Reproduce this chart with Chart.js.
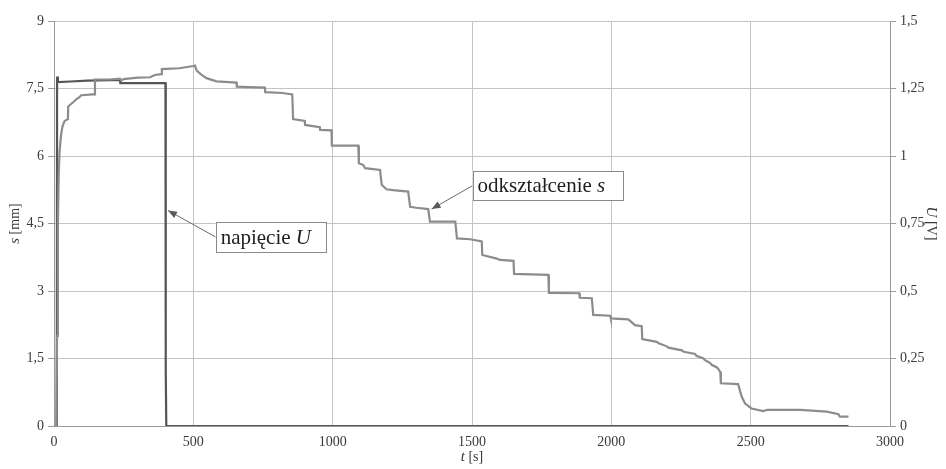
<!DOCTYPE html>
<html><head><meta charset="utf-8">
<script src="https://cdn.jsdelivr.net/npm/chart.js@4"></script>
<style>html,body{margin:0;padding:0;background:#fff}#wrap{width:946px;height:469px;position:relative}</style>
</head><body><div id="wrap"><canvas id="c"></canvas></div>
<script>
// ---- data ----
const timeS = [0,8,11,14,17,20,25,30,38,50,51,60,70,80,90,98,140,146,147,200,237,242,250,300,345,362,385,387,450,500,506,512,530,547,583,655,656,700,757,758,820,855,858,900,901,954,955,996,997,1092,1094,1110,1116,1170,1176,1193,1217,1271,1278,1300,1343,1349,1440,1446,1493,1535,1537,1589,1600,1649,1651,1774,1776,1885,1887,1930,1935,1996,1998,2061,2085,2109,2111,2163,2170,2199,2205,2253,2260,2301,2305,2331,2335,2355,2360,2379,2385,2391,2393,2455,2468,2480,2503,2545,2560,2678,2720,2773,2815,2820,2851];
const sValues = [0,0,2.0,4.5,5.6,6.1,6.45,6.65,6.78,6.82,7.1,7.15,7.2,7.26,7.3,7.35,7.37,7.37,7.7,7.7,7.72,7.68,7.71,7.74,7.75,7.8,7.82,7.93,7.95,8.0,8.01,7.9,7.8,7.73,7.66,7.63,7.54,7.53,7.52,7.42,7.4,7.37,6.82,6.78,6.69,6.64,6.58,6.57,6.23,6.23,5.84,5.8,5.73,5.69,5.36,5.26,5.24,5.21,4.87,4.85,4.82,4.54,4.54,4.17,4.15,4.1,3.8,3.72,3.69,3.67,3.38,3.36,2.96,2.95,2.85,2.84,2.47,2.45,2.39,2.37,2.24,2.22,1.93,1.87,1.84,1.77,1.74,1.68,1.65,1.6,1.56,1.5,1.47,1.4,1.36,1.3,1.26,1.2,0.95,0.93,0.65,0.5,0.39,0.33,0.36,0.36,0.34,0.32,0.26,0.21,0.21];
const timeU = [0,10,11,14,60,120,200,237,238,400,401,403,2851];
const uValues = [0,0,1.294,1.274,1.276,1.279,1.281,1.282,1.27,1.27,0.2,0,0];
const xTicks = [0,500,1000,1500,2000,2500,3000];
const sTicks = [0,1.5,3,4.5,6,7.5,9];
const uTicks = [0,0.25,0.5,0.75,1,1.25,1.5];
const notes = [
  {text:'odkształcenie ', it:'s', box:[1502,5.67,2040,5.02], from:[1502,5.34], tip:[1355,4.82]},
  {text:'napięcie ', it:'U', box:[580,4.53,975,3.86], from:[580,4.2], tip:[409,4.79]}
];
// ---- chart ----
const serif = '"Liberation Serif", "DejaVu Serif", serif';
const fmt = v => String(v).replace('.', ',');
const toPts = (xs, ys) => xs.map((x,i) => ({x:x, y:ys[i]}));
const gridCol = '#c4c4c4', axisCol = '#9a9a9a', txtCol = '#3a3a3a';

const overlay = {
  id:'overlay',
  afterDraw(chart){
    const ctx = chart.ctx, xs = chart.scales.x, ys = chart.scales.y;
    const a = chart.chartArea;
    ctx.save();
    ctx.fillStyle = txtCol;
    ctx.textBaseline = 'middle';
    function mixed(parts, cx, cy, rot){
      ctx.save();
      ctx.translate(cx, cy); ctx.rotate(rot);
      let w = 0;
      parts.forEach(p => { ctx.font = p[1] + ' ' + p[2] + 'px ' + serif; w += ctx.measureText(p[0]).width; });
      let x = -w/2;
      ctx.textAlign = 'left';
      parts.forEach(p => { ctx.font = p[1] + ' ' + p[2] + 'px ' + serif; ctx.fillText(p[0], x, 0); x += ctx.measureText(p[0]).width; });
      ctx.restore();
    }
    const midY = (a.top + a.bottom)/2;
    mixed([['s','italic',15],[' [mm]','normal',14]], 15, midY, -Math.PI/2);
    mixed([['U','italic',15],[' [V]','normal',14]], 931, midY, Math.PI/2);
    mixed([['t','italic',15],[' [s]','normal',14]], xs.getPixelForValue(1500), 457, 0);
    notes.forEach(n => {
      const x1 = xs.getPixelForValue(n.box[0]), y1 = ys.getPixelForValue(n.box[1]);
      const x2 = xs.getPixelForValue(n.box[2]), y2 = ys.getPixelForValue(n.box[3]);
      const fx = xs.getPixelForValue(n.from[0]), fy = ys.getPixelForValue(n.from[1]);
      const tx = xs.getPixelForValue(n.tip[0]), ty = ys.getPixelForValue(n.tip[1]);
      ctx.strokeStyle = '#6a6a6a'; ctx.lineWidth = 1;
      ctx.beginPath(); ctx.moveTo(fx, fy); ctx.lineTo(tx, ty); ctx.stroke();
      const ang = Math.atan2(ty - fy, tx - fx), L = 9, W = 3.5;
      ctx.fillStyle = '#5a5a5a';
      ctx.beginPath();
      ctx.moveTo(tx, ty);
      ctx.lineTo(tx - L*Math.cos(ang) + W*Math.sin(ang), ty - L*Math.sin(ang) - W*Math.cos(ang));
      ctx.lineTo(tx - L*Math.cos(ang) - W*Math.sin(ang), ty - L*Math.sin(ang) + W*Math.cos(ang));
      ctx.closePath(); ctx.fill();
      ctx.fillStyle = '#fff';
      ctx.fillRect(x1, y1, x2-x1, y2-y1);
      ctx.strokeStyle = '#8a8a8a';
      ctx.strokeRect(Math.round(x1)+0.5, Math.round(y1)+0.5, Math.round(x2-x1), Math.round(y2-y1));
      ctx.fillStyle = '#1e1e1e';
      ctx.textAlign = 'left'; ctx.textBaseline = 'middle';
      ctx.font = '21px ' + serif;
      const cy = (y1 + y2)/2 + 1;
      ctx.fillText(n.text, x1 + 5, cy);
      const w = ctx.measureText(n.text).width;
      ctx.font = 'italic 21px ' + serif;
      ctx.fillText(n.it, x1 + 5 + w, cy);
    });
    ctx.restore();
  }
};

new Chart(document.getElementById('c'), {
  type:'line',
  data:{ datasets:[
    {label:'s', data:toPts(timeS, sValues), yAxisID:'y', borderColor:'#8c8c8c', borderWidth:2.2, pointRadius:0, fill:false, tension:0},
    {label:'U', data:toPts(timeU, uValues), yAxisID:'y1', borderColor:'#555555', borderWidth:2.2, pointRadius:0, fill:false, tension:0}
  ]},
  options:{
    responsive:true, maintainAspectRatio:false, animation:false,
    layout:{padding:{top:21, left:0, right:0, bottom:0}},
    plugins:{legend:{display:false}, tooltip:{enabled:false}},
    scales:{
      x:{type:'linear', min:0, max:3000,
        afterBuildTicks: s => { s.ticks = xTicks.map(v => ({value:v})); },
        afterFit: s => { s.height = 43; },
        grid:{color:gridCol, drawTicks:false, lineWidth:1},
        border:{color:axisCol},
        ticks:{color:txtCol, font:{family:serif, size:14}, padding:8, maxRotation:0, callback:v => fmt(v)}},
      y:{type:'linear', position:'left', min:0, max:9,
        afterBuildTicks: s => { s.ticks = sTicks.map(v => ({value:v})); },
        afterFit: s => { s.width = 54; },
        grid:{color:gridCol, tickLength:6, tickColor:axisCol, lineWidth:1},
        border:{color:axisCol},
        ticks:{color:txtCol, font:{family:serif, size:14}, padding:4, callback:v => fmt(v)}},
      y1:{type:'linear', position:'right', min:0, max:1.5,
        afterBuildTicks: s => { s.ticks = uTicks.map(v => ({value:v})); },
        afterFit: s => { s.width = 56; },
        grid:{drawOnChartArea:false, tickLength:6, tickColor:axisCol},
        border:{color:axisCol},
        ticks:{color:txtCol, font:{family:serif, size:14}, padding:4, callback:v => fmt(v)}}
    }
  },
  plugins:[overlay]
});
</script>
</body></html>
